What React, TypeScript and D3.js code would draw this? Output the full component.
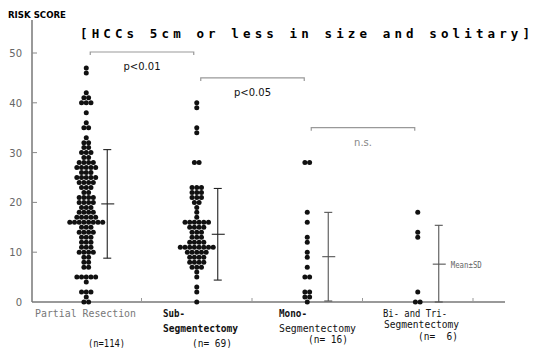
import React, { useEffect, useRef } from 'react';
import * as d3 from 'd3';

// [score, number of patients with that score]
const partialScores: [number, number][] = [
  [47, 1], [46, 1], [42, 1], [41, 2], [40, 3], [38, 1], [36, 1], [35, 2],
  [33, 1], [32, 2], [31, 2], [30, 3], [29, 2], [28, 4], [27, 5], [26, 3],
  [25, 5], [24, 4], [23, 3], [22, 2], [21, 4], [20, 4], [19, 3], [18, 4],
  [17, 5], [16, 8], [15, 3], [14, 4], [13, 3], [12, 3], [11, 3], [10, 4],
  [9, 2], [8, 2], [7, 2], [5, 5], [4, 1], [2, 3], [1, 1], [0, 2],
];
const subScores: [number, number][] = [
  [40, 1], [39, 1], [35, 1], [34, 1], [28, 2], [23, 3], [22, 3], [21, 3],
  [20, 2], [19, 1], [18, 1], [17, 1], [16, 6], [15, 4], [14, 3], [13, 3],
  [12, 4], [11, 8], [10, 5], [9, 4], [8, 4], [7, 3], [6, 1], [5, 1],
  [3, 1], [2, 1], [0, 1],
];
const monoScores: [number, number][] = [
  [28, 2], [18, 1], [16, 1], [13, 1], [12, 1], [10, 1], [9, 1], [7, 1],
  [5, 2], [2, 2], [1, 2], [0, 1],
];
const biScores: [number, number][] = [
  [18, 1], [14, 1], [13, 1], [2, 1], [0, 2],
];

const groupScores = [partialScores, subScores, monoScores, biScores];
const groupNs = ['(n=114)', '(n= 69)', '(n= 16)', '(n=  6)'];
const means = [19.7, 13.6, 9.1, 7.6];
const sds = [10.9, 9.2, 8.9, 7.8];
const yTicks = [0, 10, 20, 30, 40, 50];
const comparisons: [number, number, string][] = [
  [0, 1, 'p<0.01'],
  [1, 2, 'p<0.05'],
  [2, 3, 'n.s.'],
];

function App() {
  const ref = useRef<SVGSVGElement>(null);

  useEffect(() => {
    const svg = d3.select(ref.current);
    svg.selectAll('*').remove();

    const x = d3.scaleBand<number>()
      .domain([0, 1, 2, 3])
      .range([31, 473]);
    const y = d3.scaleLinear().domain([0, 50]).range([302, 53]);
    const cx = (i: number) => (x(i) as number) + x.bandwidth() / 2;
    const mono = '"DejaVu Sans Mono", monospace';
    const sans = '"DejaVu Sans", sans-serif';

    // axes
    svg.append('line')
      .attr('x1', 32).attr('x2', 32).attr('y1', 20).attr('y2', y(0))
      .attr('stroke', '#777').attr('stroke-width', 1.5);
    svg.append('line')
      .attr('x1', 32).attr('x2', 505).attr('y1', y(0)).attr('y2', y(0))
      .attr('stroke', '#777').attr('stroke-width', 1.5);

    const yt = svg.append('g');
    yt.selectAll('line').data(yTicks.filter(d => d > 0)).enter().append('line')
      .attr('x1', 32).attr('x2', 37)
      .attr('y1', d => y(d)).attr('y2', d => y(d))
      .attr('stroke', '#888');
    yt.selectAll('text').data(yTicks).enter().append('text')
      .attr('x', 22).attr('y', d => y(d) + 4)
      .attr('text-anchor', 'end')
      .attr('font-family', sans).attr('font-size', 10)
      .attr('fill', '#666')
      .text(d => d);

    // x ticks at group boundaries
    svg.append('g').selectAll('line').data([0, 1, 2, 3]).enter().append('line')
      .attr('x1', d => (x(d) as number) + x.bandwidth())
      .attr('x2', d => (x(d) as number) + x.bandwidth())
      .attr('y1', y(0)).attr('y2', y(0) - 4)
      .attr('stroke', '#999');

    // dots
    const r = 2.5;
    const step = 4.7;
    groupScores.forEach((scores, gi) => {
      const pts: { px: number; py: number }[] = [];
      scores.forEach(([v, n]) => {
        for (let k = 0; k < n; k++) {
          pts.push({ px: cx(gi) + (k - (n - 1) / 2) * step, py: y(v) });
        }
      });
      svg.append('g').selectAll('circle').data(pts).enter().append('circle')
        .attr('cx', d => d.px).attr('cy', d => d.py)
        .attr('r', r).attr('fill', '#111');
    });

    // mean ± SD
    means.forEach((m, i) => {
      const mx = cx(i) + 21;
      const top = m + sds[i];
      const bot = Math.max(0, m - sds[i]);
      const col = i < 2 ? '#222' : '#555';
      const g = svg.append('g').attr('stroke', col).attr('stroke-width', 1.1);
      g.append('line').attr('x1', mx).attr('x2', mx).attr('y1', y(top)).attr('y2', y(bot));
      g.append('line').attr('x1', mx - 4).attr('x2', mx + 4).attr('y1', y(top)).attr('y2', y(top));
      g.append('line').attr('x1', mx - 4).attr('x2', mx + 4).attr('y1', y(bot)).attr('y2', y(bot));
      g.append('line').attr('x1', mx - 6).attr('x2', mx + 7).attr('y1', y(m)).attr('y2', y(m));
    });
    svg.append('text')
      .attr('x', cx(3) + 33).attr('y', y(means[3]) + 3.5)
      .attr('font-family', mono).attr('font-size', 9)
      .attr('fill', '#666')
      .attr('textLength', 31).attr('lengthAdjust', 'spacingAndGlyphs')
      .text('Mean±SD');

    // significance brackets
    const bracketY = [50.2, 45, 35];
    comparisons.forEach(([a, b, label], i) => {
      const x1 = cx(a) + 4;
      const x2 = cx(b) - 3;
      const by = y(bracketY[i]);
      svg.append('path')
        .attr('d', `M${x1},${by + 3}V${by}H${x2}V${by + 3}`)
        .attr('fill', 'none').attr('stroke', '#999').attr('stroke-width', 1.2);
      svg.append('text')
        .attr('x', (x1 + x2) / 2).attr('y', by + 18)
        .attr('text-anchor', 'middle')
        .attr('font-family', sans).attr('font-size', 10)
        .attr('fill', label === 'n.s.' ? '#888' : '#111')
        .text(label);
    });

    // titles
    svg.append('text')
      .attr('x', 8).attr('y', 18)
      .attr('font-family', sans).attr('font-size', 9).attr('font-weight', 'bold')
      .attr('textLength', 58).attr('lengthAdjust', 'spacingAndGlyphs')
      .text('RISK SCORE');
    svg.append('text')
      .attr('x', 80).attr('y', 38)
      .attr('font-family', mono).attr('font-size', 12.5).attr('font-weight', 'bold')
      .attr('textLength', 450).attr('lengthAdjust', 'spacing')
      .text('[HCCs 5cm or less in size and solitary]');

    // category labels
    const lab = (tx: number, ty: number, s: string, len: number, bold: boolean, col = '#111') =>
      svg.append('text')
        .attr('x', tx).attr('y', ty)
        .attr('font-family', mono).attr('font-size', 10)
        .attr('font-weight', bold ? 'bold' : 'normal')
        .attr('fill', col)
        .attr('textLength', len).attr('lengthAdjust', 'spacingAndGlyphs')
        .style('white-space', 'pre')
        .text(s);
    lab(35, 317, 'Partial Resection', 101, false, '#777');
    lab(163, 317, 'Sub-', 22, true);
    lab(163, 332, 'Segmentectomy', 75, true);
    lab(279, 317, 'Mono-', 28, true);
    lab(279, 332, 'Segmentectomy', 77, false);
    lab(383, 317, 'Bi- and Tri-', 64, false);
    lab(384, 328, 'Segmentectomy', 75, false);

    const nx = [88, 192, 308, 418];
    const ny = [347, 347, 343, 340];
    groupNs.forEach((s, i) => lab(nx[i], ny[i], s, i === 0 ? 37 : 40, false));
  }, []);

  return (
    <svg ref={ref} width={537} height={348}
      style={{ position: 'absolute', left: 0, top: 0, background: '#fff' }} />
  );
}

export default App;
